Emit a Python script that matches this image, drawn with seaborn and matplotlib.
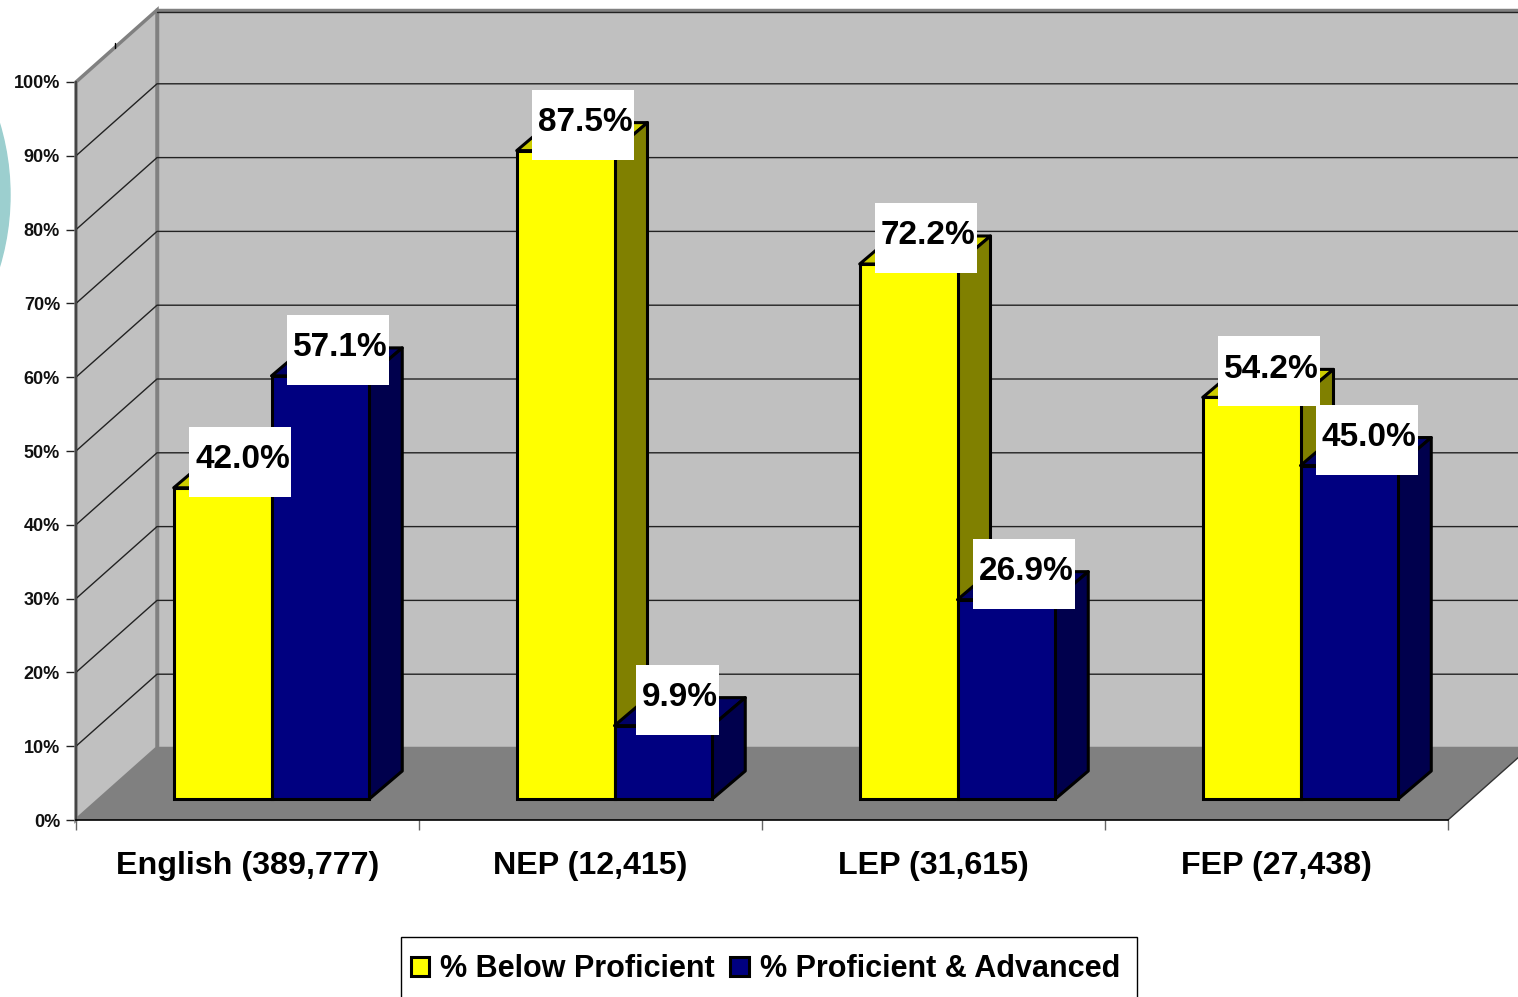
import pandas as pd
import seaborn as sns
import matplotlib.pyplot as plt
from matplotlib.patches import Polygon, Rectangle, Ellipse
from matplotlib.lines import Line2D

groups = ['English (389,777)', 'NEP (12,415)', 'LEP (31,615)', 'FEP (27,438)']
below = [42.0, 87.5, 72.2, 54.2]
proficient = [57.1, 9.9, 26.9, 45.0]
series = ['% Below Proficient', '% Proficient & Advanced']
yticks = [0, 10, 20, 30, 40, 50, 60, 70, 80, 90, 100]

W, H = 1518, 997

sns.set_theme(style='white')
plt.rcParams['font.family'] = ['Liberation Sans', 'DejaVu Sans']
plt.rcParams['font.weight'] = 'bold'

df = pd.DataFrame({
    'group': groups * 2,
    'series': [series[0]] * 4 + [series[1]] * 4,
    'value': below + proficient,
})

fig = plt.figure(figsize=(W / 100, H / 100), dpi=100, facecolor='white')

def px_rect(left, right, top, bottom):
    return [left / W, 1 - bottom / H, (right - left) / W, (bottom - top) / H]

# teal circle peeking in from the slide behind the chart
fig.add_artist(Ellipse((-240 / W, 1 - 195 / H), 500 / W, 500 / H, color='#9CCFCF',
                       transform=fig.transFigure))
fig.add_artist(Line2D([115 / W, 115 / W], [1 - 43 / H, 1 - 48 / H], color='black', lw=1))

# front plane carries the axis, bars sit a little further in
ax = fig.add_axes(px_rect(76, 1448, 82, 820))
ax2 = fig.add_axes(px_rect(100, 1472, 58, 799))
ax.patch.set_alpha(0)
ax2.patch.set_alpha(0)

sx = 343.0
sy = 7.38
sy2 = 7.41

# walls and floor
bx = 81 / sx
by = 72 / sy
left = -0.5
right = 3.5
ax.add_patch(Polygon([(left + bx, by), (right + 2 * bx, by), (right + 2 * bx, 100 + by), (left + bx, 100 + by)],
                     closed=True, fc='#C0C0C0', ec='#808080', lw=2.5, clip_on=False, zorder=0.5))
ax.add_patch(Polygon([(left, 0), (left + bx, by), (left + bx, 100 + by), (left, 100)],
                     closed=True, fc='#C0C0C0', ec='#808080', lw=2.5, clip_on=False, zorder=0.6))
ax.add_patch(Polygon([(left, 0), (right, 0), (right + bx, by), (left + bx, by)],
                     closed=True, fc='#808080', ec='none', clip_on=False, zorder=0.7))
ax.plot([right, right + bx], [0, by], color='#333333', lw=1, clip_on=False, zorder=0.8)
for v in yticks[1:-1]:
    ax.plot([left, left + bx, right + 2 * bx], [v, v + by, v + by], color='#222222', lw=1.0,
            clip_on=False, zorder=0.8)
# top line of the back wall sits just under the grey edge
ax.plot([left + bx, right + 2 * bx], [99.7 + by, 99.7 + by], color='#222222', lw=1.0,
        clip_on=False, zorder=0.8)

sns.barplot(data=df, x='group', y='value', hue='series', palette=['#FFFF00', '#000080'],
            saturation=1, width=0.57, gap=0, edgecolor='black', linewidth=2.2,
            legend=False, ax=ax2)

dx = 33 / sx
dy = 28 / sy2
top_colors = ['#CCCC00', '#000066']
side_colors = ['#808000', '#00004D']
z = 2
for c, container in enumerate(ax2.containers):
    for bar in container:
        x = bar.get_x()
        w = bar.get_width()
        h = bar.get_height()
        ax2.add_patch(Polygon([(x, h), (x + w, h), (x + w + dx, h + dy), (x + dx, h + dy)], closed=True,
                              fc=top_colors[c], ec='black', lw=2.2, clip_on=False, zorder=z, joinstyle='round'))
        ax2.add_patch(Polygon([(x + w, 0), (x + w + dx, dy), (x + w + dx, h + dy), (x + w, h)], closed=True,
                              fc=side_colors[c], ec='black', lw=2.2, clip_on=False, zorder=z, joinstyle='round'))
        bar.set_zorder(z + 0.5)
        bar.set_clip_on(False)
    z += 1

# white value labels
z = 20
for container in ax2.containers:
    for bar in container:
        h = bar.get_height()
        label = f'{h:.1f}%'
        box_w = 102 if len(label) > 4 else 83
        cx = bar.get_x() + bar.get_width() / 2 + box_w * 0.175 / sx
        cy = h + 26 / sy2
        ax2.add_patch(Rectangle((cx - box_w / 2 / sx, cy - 35 / sy2), box_w / sx, 70 / sy2, fc='white', ec='none',
                                clip_on=False, zorder=z))
        ax2.text(cx + 2 / sx, cy + 2 / sy2, label, ha='center', va='center', fontsize=24, fontweight='bold',
                 color='black', zorder=z + 0.5, clip_on=False)
        z += 1

ax2.set_xlim(left, right)
ax2.set_ylim(0, 100)
ax2.axis('off')

# axis on the front plane
ax.set_xlim(left, right)
ax.set_ylim(0, 100)
ax.set_xticks(range(4))
ax.set_xticklabels(groups, fontsize=23.2, fontweight='bold', color='black')
ax.set_xticks([-0.5, 0.5, 1.5, 2.5, 3.5], minor=True)
ax.tick_params(axis='x', which='major', length=0, pad=22)
ax.tick_params(axis='x', which='minor', bottom=True, length=7.5, width=1, color='#666666')
ax.set_yticks(yticks)
ax.set_yticklabels([f'{v}%' for v in yticks], fontsize=13, fontweight='bold', color='#111111')
ax.tick_params(axis='y', left=True, length=7.5, width=1, color='#222222', pad=4)
for s in ['top', 'right']:
    ax.spines[s].set_visible(False)
ax.spines['bottom'].set_color('black')
ax.spines['bottom'].set_linewidth(1.2)
ax.spines['left'].set_color('#444444')
ax.spines['left'].set_linewidth(1.5)
ax.set_xlabel('')
ax.set_ylabel('')

# legend box runs off the bottom of the picture
fig.add_artist(Rectangle((401 / W, -0.01), 736 / W, 1 - 937 / H + 0.01, fc='white', ec='black', lw=1,
                         transform=fig.transFigure))
leg = fig.legend(ax2.containers, series, loc='upper left', bbox_to_anchor=(411 / W, 1 - 954 / H),
                 ncol=2, frameon=False, labelcolor='black',
                 handlelength=0.6, handleheight=0.6, handletextpad=0.36, columnspacing=0.5,
                 borderpad=0, borderaxespad=0, prop={'weight': 'bold', 'size': 22})

fig.savefig('out.png', dpi=100)
